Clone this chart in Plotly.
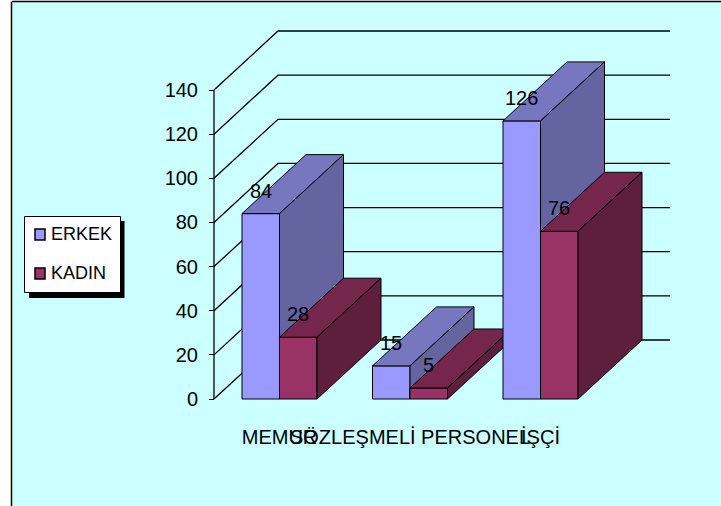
import plotly.graph_objects as go

categories = ["MEMUR", "SÖZLEŞMELİ PERSONEL", "İŞÇİ"]
erkek = [84, 15, 126]
kadin = [28, 5, 76]
value_ticks = [0, 20, 40, 60, 80, 100, 120, 140]

W, H = 721, 506
ML, MT = 12, 2
FONT = "Liberation Sans"
FRONT_E, TOP_E, SIDE_E = "#9999FF", "#7777C0", "#6464A0"
FRONT_K, TOP_K, SIDE_K = "#993366", "#74264D", "#5E1F3E"
LINE = "#000000"

SLOT_PX, UNIT_PX = 130.5, 2.207
X0_PX, Y0_PX = 279.5, 399
BAR = 37.5 / SLOT_PX
DX, DY = 64 / SLOT_PX, 59 / UNIT_PX
xr = [(ML - X0_PX) / SLOT_PX, (W - X0_PX) / SLOT_PX]
yr = [(Y0_PX - H) / UNIT_PX, (Y0_PX - MT) / UNIT_PX]
AXIS_X = (214 - X0_PX) / SLOT_PX
RIGHT_X = (670 - X0_PX) / SLOT_PX


def px(x):
    return (x - ML) / (W - ML)


def py(y):
    return 1 - (y - MT) / (H - MT)


fig = go.Figure()

# back wall and floor lines
gx, gy = [], []
for v in value_ticks:
    gx += [AXIS_X, AXIS_X + DX, RIGHT_X, None]
    gy += [v, v + DY, v + DY, None]
fig.add_trace(go.Scatter(x=gx, y=gy, mode="lines", line=dict(color=LINE, width=1.3),
                         hoverinfo="skip", showlegend=False))
fig.add_trace(go.Scatter(x=[AXIS_X, AXIS_X], y=[value_ticks[0], value_ticks[-1]], mode="lines",
                         line=dict(color=LINE, width=1.3), hoverinfo="skip", showlegend=False))

layout_axes = {}
layer = 2
series = [("ERKEK", erkek, -BAR, FRONT_E, TOP_E, SIDE_E),
          ("KADIN", kadin, 0.0, FRONT_K, TOP_K, SIDE_K)]
for ci, _ in enumerate(categories):
    for name, vals, off, front, top, side in series:
        v = vals[ci]
        xa, ya = f"x{layer}", f"y{layer}"
        left, right = ci + off, ci + off + BAR
        fig.add_trace(go.Bar(x=[ci], y=[v], offset=off, width=BAR, name=name, xaxis=xa, yaxis=ya,
                             marker=dict(color=front, line=dict(color=LINE, width=1)), showlegend=False))
        fig.add_trace(go.Scatter(x=[left, right, right + DX, left + DX, left],
                                 y=[v, v, v + DY, v + DY, v], mode="lines", fill="toself",
                                 fillcolor=top, line=dict(color=LINE, width=1), xaxis=xa, yaxis=ya,
                                 hoverinfo="skip", showlegend=False))
        fig.add_trace(go.Scatter(x=[right, right + DX, right + DX, right, right],
                                 y=[0, DY, v + DY, v, 0], mode="lines", fill="toself",
                                 fillcolor=side, line=dict(color=LINE, width=1), xaxis=xa, yaxis=ya,
                                 hoverinfo="skip", showlegend=False))
        layout_axes[f"xaxis{layer}"] = dict(range=xr, overlaying="x", visible=False)
        layout_axes[f"yaxis{layer}"] = dict(range=yr, overlaying="y", visible=False)
        layer += 1

annotations = []
for name, vals, off, *_ in series:
    for ci, v in enumerate(vals):
        annotations.append(dict(x=ci + off + BAR / 2, y=v, xref="x", yref="y", text=str(v), showarrow=False,
                                yshift=23, font=dict(family=FONT, size=20, color="#000000")))

shapes = [
    dict(type="line", xref="paper", yref="paper", x0=0, x1=1, y0=py(1.5), y1=py(1.5), line=dict(color=LINE, width=1.5)),
    dict(type="line", xref="paper", yref="paper", x0=px(11.5), x1=px(11.5), y0=0, y1=py(1.5), line=dict(color=LINE, width=1.5)),
    dict(type="rect", xref="paper", yref="paper", x0=px(29), x1=px(124.5), y0=py(298), y1=py(221),
         fillcolor="#000000", line=dict(width=0)),
    dict(type="rect", xref="paper", yref="paper", x0=px(24.5), x1=px(120.5), y0=py(292.5), y1=py(216.5),
         fillcolor="#FFFFFF", line=dict(color=LINE, width=1)),
    dict(type="rect", xref="paper", yref="paper", x0=px(35), x1=px(45), y0=py(240), y1=py(229),
         fillcolor=FRONT_E, line=dict(color=LINE, width=1.5)),
    dict(type="rect", xref="paper", yref="paper", x0=px(35), x1=px(45), y0=py(279), y1=py(268),
         fillcolor=FRONT_K, line=dict(color=LINE, width=1.5)),
]
for name, yc in (("ERKEK", 234), ("KADIN", 273)):
    annotations.append(dict(x=px(49), y=py(yc), xref="paper", yref="paper", text=name, showarrow=False,
                            xanchor="left", yanchor="middle", font=dict(family=FONT, size=18, color="#000000")))

fig.update_layout(
    width=W, height=H, margin=dict(l=ML, r=0, t=MT, b=0),
    paper_bgcolor="#FFFFFF", plot_bgcolor="#CCFFFF",
    barmode="overlay", showlegend=False,
    shapes=shapes, annotations=annotations,
    xaxis=dict(range=xr, anchor="free", position=(H - Y0_PX) / (H - MT), tickmode="array",
               tickvals=list(range(len(categories))), ticktext=categories, tickangle=0,
               showgrid=False, zeroline=False, showline=False, ticks="", ticklabelstandoff=24,
               tickfont=dict(family=FONT, size=20, color="#000000")),
    yaxis=dict(range=yr, anchor="free", position=(214 - ML) / (W - ML), tickmode="array",
               tickvals=value_ticks, showgrid=False, zeroline=False, showline=False,
               ticks="outside", ticklen=5, tickwidth=1.3, tickcolor=LINE, ticklabelstandoff=7,
               tickfont=dict(family=FONT, size=20, color="#000000")),
    **layout_axes,
)
fig.write_html("out.html", config={"displayModeBar": False},
               post_script="document.body.style.margin='0';")
